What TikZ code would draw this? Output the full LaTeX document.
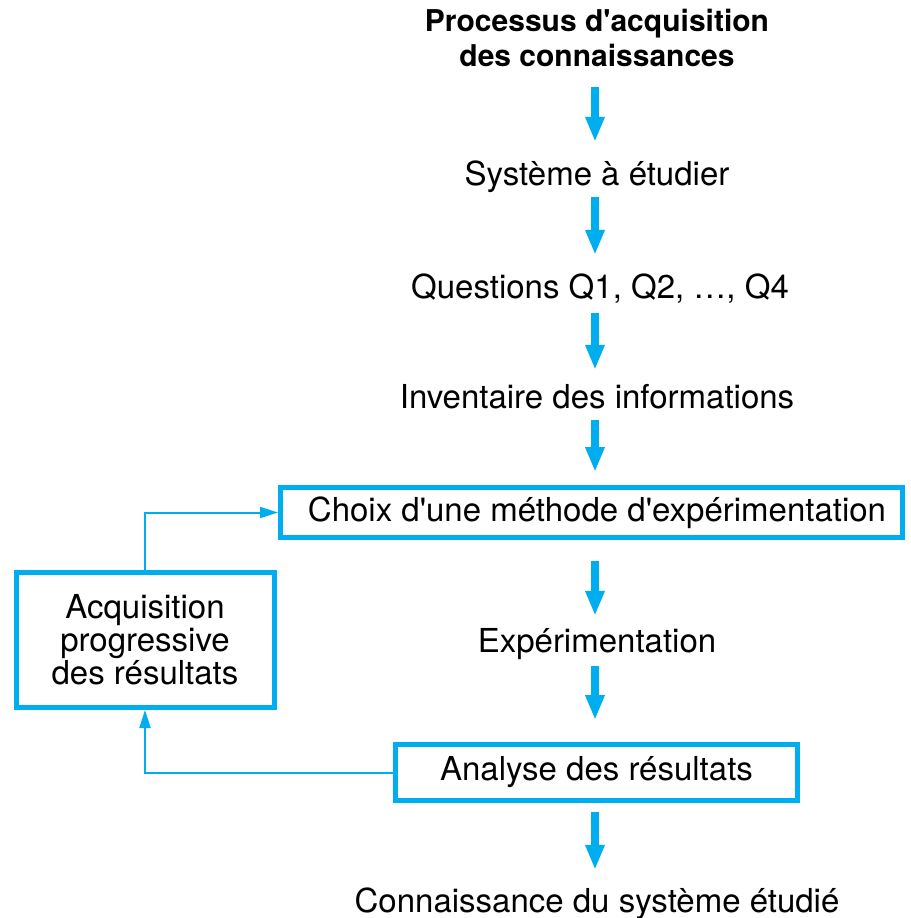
\documentclass[tikz,border=0pt]{standalone}
\usepackage{fontspec}
\setmainfont{TeX Gyre Heros}
\usetikzlibrary{arrows.meta}
\definecolor{procblue}{RGB}{0,174,239}
\tikzset{
  txt/.style={inner sep=0pt, text height=23pt, text depth=7pt, font=\fontsize{33}{34}\selectfont},
  boite/.style={draw=procblue, line width=5pt, inner sep=0pt, align=center, font=\fontsize{33}{33}\selectfont},
  flow/.style={draw=procblue, line width=8pt, -{Triangle[length=25pt,width=18pt]}},
  retour/.style={draw=procblue, line width=2pt, -{Triangle[length=18pt,width=11pt]}}
}
\begin{document}
\begin{tikzpicture}[x=1pt,y=-1pt]
  \useasboundingbox (0,0) rectangle (910,918);
  \coordinate (axe) at (595,0);
  % etapes du processus
  \node[anchor=north, inner sep=0pt, align=center, font=\fontsize{30}{35}\selectfont\bfseries] (titre) at (597,9) {Processus d\textquotesingle acquisition\\des connaissances};
  \node[txt] (sys) at (597,177) {Système à étudier};
  \node[txt] (ques) at (600,290) {Questions Q1, Q2, …, Q4};
  \node[txt] (inv) at (597,400) {Inventaire des informations};
  \node[boite, minimum width=622pt, minimum height=50pt] (choix) at (591.5,512.5) {\hspace*{11pt}Choix d\textquotesingle une méthode d\textquotesingle expérimentation};
  \node[txt] (exp) at (597,644) {Expérimentation};
  \node[boite, minimum width=402pt, minimum height=56pt] (ana) at (596.5,772.5) {Analyse des résultats};
  \node[txt] (conn) at (597,904) {Connaissance du système étudié};
  \node[boite, minimum width=258pt, minimum height=135pt] (acq) at (145,640) {Acquisition\\progressive\\des résultats};
  % fleches principales
  \foreach \a/\b/\s/\e in {titre/sys/20/20, sys/ques/5/20, ques/inv/8/15, inv/choix/5/13,
                           choix/exp/21/13, exp/ana/7/22, ana/conn/9/19}{
    \path[flow, shorten <=\s pt, shorten >=\e pt] (\a.south -| axe) -- (\b.north -| axe);
  }
  % boucle de retour
  \draw[retour] (ana.west) -| (acq.south);
  \draw[retour] (acq.north) |- (choix.west);
\end{tikzpicture}
\end{document}
